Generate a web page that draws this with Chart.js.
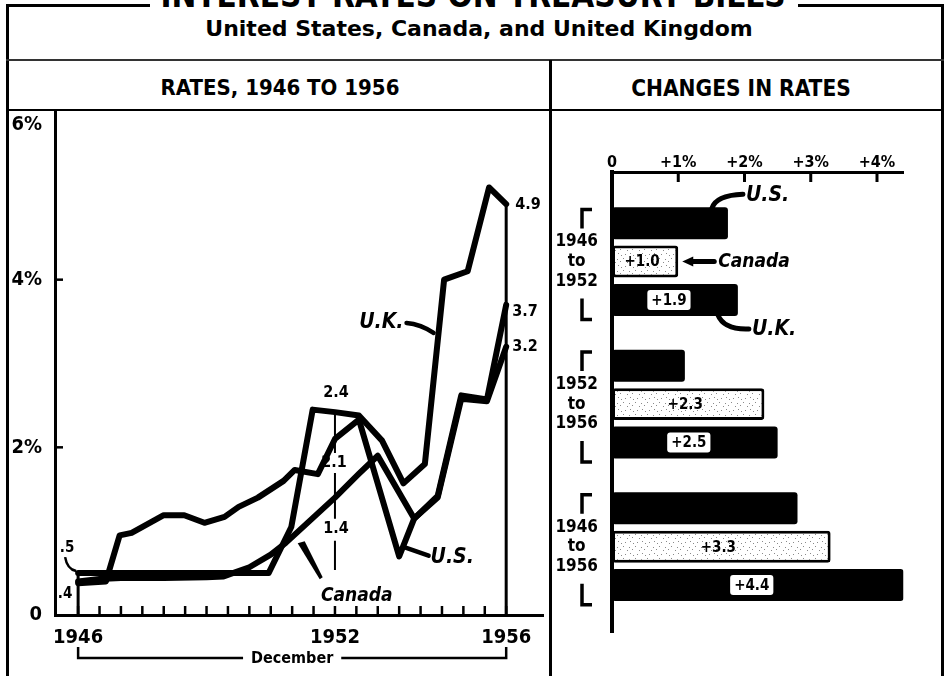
<!DOCTYPE html>
<html><head><meta charset="utf-8">
<script src="https://cdn.jsdelivr.net/npm/chart.js@4.4.1/dist/chart.umd.min.js"></script>
<style>
html,body{margin:0;padding:0;background:#fff;}
#wrap{position:relative;width:948px;height:676px;overflow:hidden;background:#fff;font-family:'DejaVu Sans Condensed','Liberation Sans Narrow','DejaVu Sans',sans-serif;color:#000;}
.ln{position:absolute;background:#000;}
.txt{position:absolute;white-space:nowrap;font-weight:bold;}
canvas{position:absolute;left:0;top:0;}
</style></head><body><div id="wrap">
<div class="txt" style="left:0;width:946px;text-align:center;top:-24px;font-size:33px;line-height:40px;">INTEREST RATES ON TREASURY BILLS</div>
<div class="ln" style="left:6px;top:4px;width:144px;height:3px;"></div>
<div class="ln" style="left:798px;top:4px;width:146px;height:3px;"></div>
<div class="ln" style="left:6px;top:4px;width:3px;height:672px;"></div>
<div class="ln" style="left:941px;top:4px;width:3px;height:672px;"></div>
<div class="txt" style="left:0;width:958px;text-align:center;top:16px;font-family:'DejaVu Sans',sans-serif;font-size:22px;line-height:26px;">United States, Canada, and United Kingdom</div>
<div class="ln" style="left:6px;top:59px;width:938px;height:2px;background:#333;"></div>
<div class="ln" style="left:549px;top:60px;width:3px;height:616px;"></div>
<div class="txt" style="left:13px;width:534px;text-align:center;top:75px;font-size:22px;line-height:26px;">RATES, 1946 TO 1956</div>
<div class="txt" style="left:552px;width:378px;text-align:center;top:75px;font-size:22.5px;line-height:26px;">CHANGES IN RATES</div>
<div class="ln" style="left:6px;top:109px;width:938px;height:2px;"></div>
<canvas id="c1" width="948" height="676"></canvas>
<canvas id="c2" width="948" height="676"></canvas>
</div>
<script>
const FONT = "'DejaVu Sans Condensed','Liberation Sans Narrow','DejaVu Sans',sans-serif";

// ---- Left panel: rates (x = year, tick "1946" = December 1946) ----
const usYears     = [1946, 1946.65, 1946.97, 1947.25, 1948.0, 1948.48, 1948.95, 1949.42, 1949.75, 1950.2, 1950.8, 1951.06, 1951.6, 1952.0, 1952.56, 1953.5, 1953.85, 1954.4, 1954.95, 1955.55, 1956];
const usRates     = [0.38, 0.40, 0.95, 0.98, 1.19, 1.19, 1.10, 1.17, 1.29, 1.40, 1.60, 1.73, 1.68, 2.10, 2.33, 0.70, 1.15, 1.40, 2.58, 2.55, 3.20];
const canadaYears = [1946, 1946.5, 1947, 1948, 1949, 1949.4, 1950.0, 1950.5, 1950.85, 1952.0, 1952.55, 1953.0, 1953.85, 1954.4, 1954.95, 1955.55, 1956];
const canadaRates = [0.40, 0.43, 0.44, 0.44, 0.45, 0.46, 0.57, 0.72, 0.86, 1.40, 1.68, 1.90, 1.15, 1.42, 2.62, 2.57, 3.70];
const ukYears     = [1946, 1950.45, 1950.98, 1951.48, 1952.0, 1952.56, 1953.1, 1953.6, 1954.1, 1954.55, 1955.1, 1955.6, 1956];
const ukRates     = [0.50, 0.50, 1.05, 2.45, 2.42, 2.38, 2.08, 1.57, 1.80, 4.00, 4.10, 5.10, 4.90];
const rateTickLabels = {0: '0', 2: '2%', 4: '4%', 6: '6%'};
const yearTickLabels = [1946, 1952, 1956];

// ---- Right panel: changes in rates ----
const periodLabels = [['1946', 'to', '1952'], ['1952', 'to', '1956'], ['1946', 'to', '1956']];
const usChange     = [1.75, 1.1, 2.8];
const canadaChange = [1.0, 2.3, 3.3];
const ukChange     = [1.9, 2.5, 4.4];
const changeTickLabels = ['0', '+1%', '+2%', '+3%', '+4%'];

function seg(ctx, x1, y1, x2, y2, w) { ctx.lineWidth = w; ctx.beginPath(); ctx.moveTo(x1, y1); ctx.lineTo(x2, y2); ctx.stroke(); }
function valueAt(xs, ys, t) {
  for (let i = 0; i < xs.length - 1; i++) {
    if (t >= xs[i] && t <= xs[i + 1]) return ys[i] + (ys[i + 1] - ys[i]) * (t - xs[i]) / (xs[i + 1] - xs[i]);
  }
  return t < xs[0] ? ys[0] : ys[ys.length - 1];
}
const fmt = v => v.toFixed(1);

const leftDecor = {
  id: 'leftDecor',
  afterDraw(chart) {
    const {ctx, chartArea: a, scales: {x: xs, y: ys}} = chart;
    const first = yearTickLabels[0], mid = yearTickLabels[1], last = yearTickLabels[yearTickLabels.length - 1];
    const px = t => xs.getPixelForValue(t), py = v => ys.getPixelForValue(v);
    ctx.save();
    ctx.strokeStyle = '#000'; ctx.fillStyle = '#000'; ctx.lineCap = 'butt';
    xs.ticks.forEach(t => {
      if (t.value >= first - 1e-6 && t.value <= last + 1e-6) { const x = px(t.value); seg(ctx, x, a.bottom, x, a.bottom - 9, 2.5); }
    });
    ys.ticks.forEach(t => {
      if (t.value > 0 && t.value < ys.max) { const y = py(t.value); seg(ctx, a.left, y, a.left + 8, y, 2.5); }
    });
    const x0 = px(first), x1 = px(last), x52 = px(mid);
    const ukEnd = ukRates[ukRates.length - 1], caEnd = canadaRates[canadaRates.length - 1], usEnd = usRates[usRates.length - 1];
    seg(ctx, x0, py(ukRates[0]) - 2, x0, a.bottom, 3);
    seg(ctx, x1, py(ukEnd), x1, a.bottom, 3);
    // December bracket
    const yb = a.bottom + 43;
    ctx.font = `bold 16px ${FONT}`; ctx.textAlign = 'center'; ctx.textBaseline = 'middle';
    const cx = (x0 + x1) / 2, tw = ctx.measureText('December').width;
    ctx.fillText('December', cx, yb + 1);
    ctx.lineWidth = 2.5; ctx.beginPath();
    ctx.moveTo(x0, yb - 11); ctx.lineTo(x0, yb); ctx.lineTo(cx - tw / 2 - 8, yb);
    ctx.moveTo(cx + tw / 2 + 8, yb); ctx.lineTo(x1, yb); ctx.lineTo(x1, yb - 11);
    ctx.stroke();
    // 1952 values
    const uk52 = valueAt(ukYears, ukRates, mid), us52 = valueAt(usYears, usRates, mid), ca52 = valueAt(canadaYears, canadaRates, mid);
    ctx.font = `bold 16px ${FONT}`;
    const l1 = py(uk52) - 19, l2 = py(us52) + 24, l3 = py(ca52) + 31;
    ctx.fillText(fmt(uk52), x52 + 1, l1);
    ctx.fillText(fmt(us52), x52 - 1, l2);
    ctx.fillText(fmt(ca52), x52 + 1, l3);
    ctx.lineWidth = 2;
    ctx.beginPath();
    ctx.moveTo(x52, py(uk52) + 3); ctx.lineTo(x52, l2 - 10);
    ctx.moveTo(x52, l2 + 10); ctx.lineTo(x52, l3 - 10);
    ctx.moveTo(x52, l3 + 12); ctx.lineTo(x52, a.bottom - 45);
    ctx.stroke();
    // 1956 values
    ctx.textAlign = 'left';
    ctx.fillText(fmt(ukEnd), x1 + 9, py(ukEnd) + 1);
    ctx.fillText(fmt(caEnd), x1 + 6, py(caEnd) + 7);
    ctx.fillText(fmt(usEnd), x1 + 6, py(usEnd));
    // 1946 values
    ctx.font = `bold 15px ${FONT}`; ctx.textAlign = 'center';
    ctx.fillText(fmt(ukRates[0]).replace(/^0/, ''), x0 - 11, py(ukRates[0]) - 25);
    ctx.fillText(fmt(canadaRates[0]).replace(/^0/, ''), x0 - 13, py(canadaRates[0]) + 13);
    ctx.lineWidth = 2.5; ctx.beginPath();
    ctx.moveTo(x0 - 13, py(ukRates[0]) - 16);
    ctx.quadraticCurveTo(x0 - 11, py(ukRates[0]) - 4, x0 - 2, py(ukRates[0]) - 2);
    ctx.stroke();
    // series annotations
    const ds = chart.data.datasets;
    ctx.font = `bold italic 21px ${FONT}`; ctx.lineWidth = 4.5; ctx.lineCap = 'round';
    const tUK = 1954.42, ax = px(tUK), ay = py(valueAt(ukYears, ukRates, tUK));
    ctx.beginPath(); ctx.moveTo(ax - 32, ay - 10); ctx.quadraticCurveTo(ax - 18, ay - 9, ax - 5, ay); ctx.stroke();
    ctx.textAlign = 'right'; ctx.fillText(ds[2].label, ax - 35, ay - 10);
    const tUS = 1953.58, bx = px(tUS), by = py(valueAt(usYears, usRates, tUS));
    ctx.beginPath(); ctx.moveTo(bx + 3, by); ctx.lineTo(bx + 26, by + 8); ctx.stroke();
    ctx.textAlign = 'left'; ctx.fillText(ds[1].label, bx + 28, by + 10);
    const tCA = 1951.2, qx = px(tCA), qy = py(valueAt(canadaYears, canadaRates, tCA));
    ctx.beginPath(); ctx.moveTo(qx - 3, qy + 14); ctx.lineTo(qx + 4, qy + 12); ctx.lineTo(qx + 22, qy + 48); ctx.lineTo(qx + 19, qy + 50); ctx.closePath(); ctx.fill();
    ctx.font = `bold italic 19px ${FONT}`; ctx.textAlign = 'center';
    ctx.fillText(ds[0].label, qx + 56, qy + 67);
    ctx.restore();
  }
};

const pts = (xs, ys) => xs.map((x, i) => ({x, y: ys[i]}));
const lineDs = (label, xs, ys) => ({label, data: pts(xs, ys), borderColor: '#000', borderWidth: 6, pointRadius: 0, tension: 0,
  borderJoinStyle: 'round', borderCapStyle: 'round', fill: false});

new Chart(document.getElementById('c1'), {
  type: 'line',
  data: {datasets: [lineDs('Canada', canadaYears, canadaRates), lineDs('U.S.', usYears, usRates), lineDs('U.K.', ukYears, ukRates)]},
  options: {
    responsive: false, animation: false, devicePixelRatio: 1,
    layout: {padding: {left: 9, right: 405, top: 112, bottom: 0}},
    plugins: {legend: {display: false}, tooltip: {enabled: false}},
    scales: {
      x: {type: 'linear', min: 1945.46, max: 1956.86, afterFit: s => { s.height = 61; },
        grid: {display: false, drawTicks: false}, border: {display: true, width: 3, color: '#000'},
        ticks: {stepSize: 0.5, includeBounds: false, autoSkip: false, maxRotation: 0, minRotation: 0, padding: 11, color: '#000',
          font: {family: FONT, size: 20, weight: 'bold'},
          callback: v => yearTickLabels.some(y => Math.abs(y - v) < 1e-6) ? String(Math.round(v)) : ''}},
      y: {type: 'linear', min: 0, max: 6, afterFit: s => { s.width = 46; },
        grid: {display: false, drawTicks: false}, border: {display: true, width: 3, color: '#000'},
        ticks: {stepSize: 2, includeBounds: false, padding: 13, color: '#000',
          font: {family: FONT, size: 20, weight: 'bold', lineHeight: 1.3},
          callback: v => v === 6 ? ['', rateTickLabels[v]] : (rateTickLabels[v] ?? '')}}
    }
  },
  plugins: [leftDecor]
});

// speckled fill for Canada bars
const c2 = document.getElementById('c2');
const pc = document.createElement('canvas'); pc.width = 12; pc.height = 12;
const pg = pc.getContext('2d'); pg.fillStyle = '#fff'; pg.fillRect(0, 0, 12, 12); pg.fillStyle = '#8a8a8a';
[[1, 2], [5, 7], [9, 3], [3, 10], [8, 9], [11, 6], [6, 1]].forEach(([x, y]) => pg.fillRect(x, y, 1, 1));
const speckle = c2.getContext('2d').createPattern(pc, 'repeat');

const rightDecor = {
  id: 'rightDecor',
  afterDraw(chart) {
    const {ctx, chartArea: a, scales: {x: xs, y: ys}} = chart;
    ctx.save(); ctx.strokeStyle = '#000'; ctx.fillStyle = '#000';
    xs.ticks.forEach(t => { if (t.value > 0) { const x = xs.getPixelForValue(t.value); seg(ctx, x, a.top, x, a.top + 10, 3); } });
    ys.ticks.forEach(t => {
      const yc = ys.getPixelForValue(t.value), bx = a.left - 30;
      ctx.lineWidth = 3.5; ctx.beginPath();
      ctx.moveTo(bx + 10, yc - 52); ctx.lineTo(bx, yc - 52); ctx.lineTo(bx, yc - 33);
      ctx.moveTo(bx, yc + 37); ctx.lineTo(bx, yc + 58); ctx.lineTo(bx + 10, yc + 58);
      ctx.stroke();
    });
    const mUs = chart.getDatasetMeta(0), mCa = chart.getDatasetMeta(1), mUk = chart.getDatasetMeta(2);
    ctx.font = `bold 15px ${FONT}`; ctx.textAlign = 'center'; ctx.textBaseline = 'middle';
    mCa.data.forEach((b, i) => { ctx.fillStyle = '#000'; ctx.fillText('+' + fmt(canadaChange[i]), (b.base + b.x) / 2 - 3, b.y + 1); });
    mUk.data.forEach((b, i) => {
      const t = '+' + fmt(ukChange[i]), w = ctx.measureText(t).width, cx = (b.base + b.x) / 2 - 6;
      ctx.fillStyle = '#fff'; ctx.beginPath(); ctx.roundRect(cx - w / 2 - 4, b.y - 10, w + 8, 20, 3); ctx.fill();
      ctx.fillStyle = '#000'; ctx.fillText(t, cx, b.y + 1);
    });
    const ds = chart.data.datasets;
    const b0 = mUs.data[0], b1 = mCa.data[0], b2 = mUk.data[0];
    ctx.font = `bold italic 21px ${FONT}`; ctx.textAlign = 'left'; ctx.lineWidth = 5; ctx.lineCap = 'round';
    const t0 = b0.y - b0.height / 2;
    ctx.beginPath(); ctx.moveTo(b0.x - 16, t0 + 1); ctx.quadraticCurveTo(b0.x - 12, t0 - 12, b0.x + 15, t0 - 13); ctx.stroke();
    ctx.fillText(ds[0].label, b0.x + 18, t0 - 12);
    ctx.beginPath(); ctx.moveTo(b1.x + 12, b1.y); ctx.lineTo(b1.x + 36, b1.y); ctx.stroke();
    ctx.beginPath(); ctx.moveTo(b1.x + 4, b1.y); ctx.lineTo(b1.x + 15, b1.y - 5); ctx.lineTo(b1.x + 15, b1.y + 5); ctx.closePath(); ctx.fill();
    ctx.font = `bold italic 19px ${FONT}`;
    ctx.fillText(ds[1].label, b1.x + 40, b1.y + 1);
    const bt = b2.y + b2.height / 2;
    ctx.font = `bold italic 21px ${FONT}`;
    ctx.beginPath(); ctx.moveTo(b2.x - 20, bt - 1); ctx.quadraticCurveTo(b2.x - 14, bt + 14, b2.x + 11, bt + 13); ctx.stroke();
    ctx.fillText(ds[2].label, b2.x + 14, bt + 14);
    ctx.restore();
  }
};

const barDs = (label, vals, bg, bw) => ({label, data: vals.map((v, i) => ({x: v, y: i})), backgroundColor: bg,
  borderColor: '#000', borderWidth: bw, borderSkipped: false, borderRadius: 3, categoryPercentage: 0.808, barPercentage: 0.833});

new Chart(c2, {
  type: 'bar',
  data: {datasets: [barDs('U.S.', usChange, '#000', 0), barDs('Canada', canadaChange, speckle, 3), barDs('U.K.', ukChange, '#000', 0)]},
  options: {
    indexAxis: 'y', responsive: false, animation: false, devicePixelRatio: 1,
    layout: {padding: {left: 552, right: 44.5, top: 132, bottom: 0}},
    plugins: {legend: {display: false}, tooltip: {enabled: false}},
    scales: {
      x: {type: 'linear', position: 'top', min: 0, max: 4.4, afterFit: s => { s.height = 40; },
        grid: {display: false, drawTicks: false}, border: {display: true, width: 3, color: '#000'},
        ticks: {stepSize: 1, includeBounds: false, padding: 0, color: '#000', font: {family: FONT, size: 16, weight: 'bold'},
          callback: v => changeTickLabels[v] ?? ''}},
      y: {type: 'linear', reverse: true, offset: false, min: -0.628, max: 2.603, afterFit: s => { s.width = 60; },
        grid: {display: false, drawTicks: false}, border: {display: true, width: 4, color: '#000'},
        ticks: {stepSize: 1, includeBounds: false, padding: 14, crossAlign: 'center', color: '#000',
          font: {family: FONT, size: 17, weight: 'bold', lineHeight: 1.15},
          callback: v => periodLabels[v] ?? ''}}
    }
  },
  plugins: [rightDecor]
});
</script>
</body></html>
